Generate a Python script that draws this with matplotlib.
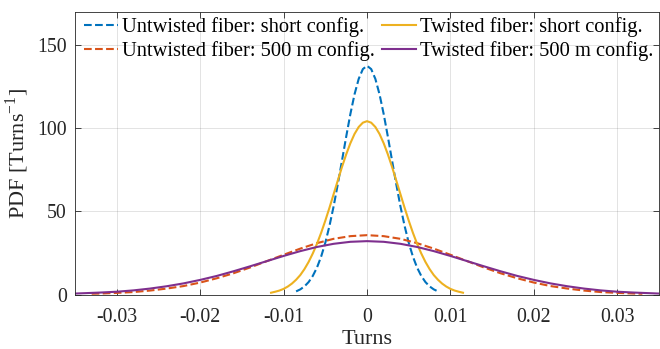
import numpy as np
import matplotlib
matplotlib.use("Agg")
import matplotlib.pyplot as plt

plt.rcParams['font.family'] = ['Liberation Serif', 'DejaVu Serif']
plt.rcParams['mathtext.fontset'] = 'custom'
plt.rcParams['mathtext.rm'] = 'Liberation Serif'
plt.rcParams['axes.unicode_minus'] = False

# sample positions (turns) for each measured distribution
short_untwisted_x = np.linspace(-0.0085, 0.0085, 35)
short_twisted_x = np.linspace(-0.0115, 0.0115, 47)
long_untwisted_x = np.concatenate(([-0.033], np.linspace(-0.032, 0.032, 33), [0.033]))
long_twisted_x = np.concatenate(([-0.035], np.linspace(-0.034, 0.034, 35), [0.035]))

# PDF values [Turns^-1]
short_untwisted_pdf = [1.9, 3.1, 4.9, 7.5, 11.2, 16.2, 22.8, 31.1, 41.3, 53.1, 66.4, 80.5,
                       94.8, 108.4, 120.3, 129.6, 135.5, 137.5, 135.5, 129.6, 120.3, 108.4,
                       94.8, 80.5, 66.4, 53.1, 41.3, 31.1, 22.8, 16.2, 11.2, 7.5, 4.9, 3.1, 1.9]
short_twisted_pdf = [1.1, 1.7, 2.4, 3.4, 4.8, 6.6, 8.9, 11.7, 15.3, 19.6, 24.7, 30.5, 37.1,
                     44.4, 52.2, 60.4, 68.6, 76.7, 84.2, 90.9, 96.5, 100.7, 103.3, 104.2,
                     103.3, 100.7, 96.5, 90.9, 84.2, 76.7, 68.6, 60.4, 52.2, 44.4, 37.1,
                     30.5, 24.7, 19.6, 15.3, 11.7, 8.9, 6.6, 4.8, 3.4, 2.4, 1.7, 1.1]
long_untwisted_pdf = [0.5, 0.6, 1.0, 1.5, 2.4, 3.6, 5.1, 7.2, 9.8, 12.8, 16.3, 20.1, 23.9,
                      27.6, 30.9, 33.5, 35.1, 35.7, 35.1, 33.5, 30.9, 27.6, 23.9, 20.1,
                      16.3, 12.8, 9.8, 7.2, 5.1, 3.6, 2.4, 1.5, 1.0, 0.6, 0.5]
long_twisted_pdf = [0.6, 0.8, 1.2, 1.7, 2.5, 3.6, 5.0, 6.7, 8.8, 11.2, 14.0, 17.0, 20.1,
                    23.2, 26.1, 28.6, 30.5, 31.7, 32.1, 31.7, 30.5, 28.6, 26.1, 23.2, 20.1,
                    17.0, 14.0, 11.2, 8.8, 6.7, 5.0, 3.6, 2.5, 1.7, 1.2, 0.8, 0.6]

labels = ['Untwisted fiber: short config.', 'Untwisted fiber: 500 m config.',
          'Twisted fiber: short config.', 'Twisted fiber: 500 m config.']

fig = plt.figure(figsize=(6.6, 3.49), dpi=100)
ax = fig.add_axes([0.1136, 0.156, 0.885, 0.8105])

l1, = ax.plot(short_untwisted_x, short_untwisted_pdf, '--', color='#0072BD', lw=1.5)
l2, = ax.plot(long_untwisted_x, long_untwisted_pdf, '--', color='#D95319', lw=1.5)
l3, = ax.plot(short_twisted_x, short_twisted_pdf, '-', color='#EDB120', lw=1.5)
l4, = ax.plot(long_twisted_x, long_twisted_pdf, '-', color='#7E2F8E', lw=1.5)

ax.set_xlim(-0.035, 0.035)
ax.set_ylim(0, 170)
ax.set_xticks([-0.03, -0.02, -0.01, 0, 0.01, 0.02, 0.03])
ax.set_xticklabels(['-0.03', '-0.02', '-0.01', '0', '0.01', '0.02', '0.03'])
ax.set_yticks([0, 50, 100, 150])

ax.grid(True, color='#262626', alpha=0.15, lw=0.6)
ax.tick_params(direction='in', top=True, right=True, length=4, width=0.6,
               labelsize=14.3, colors='#262626')
ax.tick_params(axis='x', pad=10)
ax.tick_params(axis='y', pad=6)
for s in ax.spines.values():
    s.set_color('#262626')
    s.set_linewidth(0.6)

ax.set_xlabel('Turns', fontsize=16, color='#262626', labelpad=2)
ax.set_ylabel('PDF [Turns$^{-1}$]', fontsize=16, color='#262626', labelpad=4)

ax.legend([l1, l2, l3, l4], labels, ncol=2, loc='upper left',
          bbox_to_anchor=(0.0154, 0.98), frameon=False, fontsize=14.8,
          borderpad=0, borderaxespad=0, handlelength=1.65, handletextpad=0.2,
          columnspacing=0.35, labelspacing=0.18)

fig.savefig('out.png', dpi=100)
